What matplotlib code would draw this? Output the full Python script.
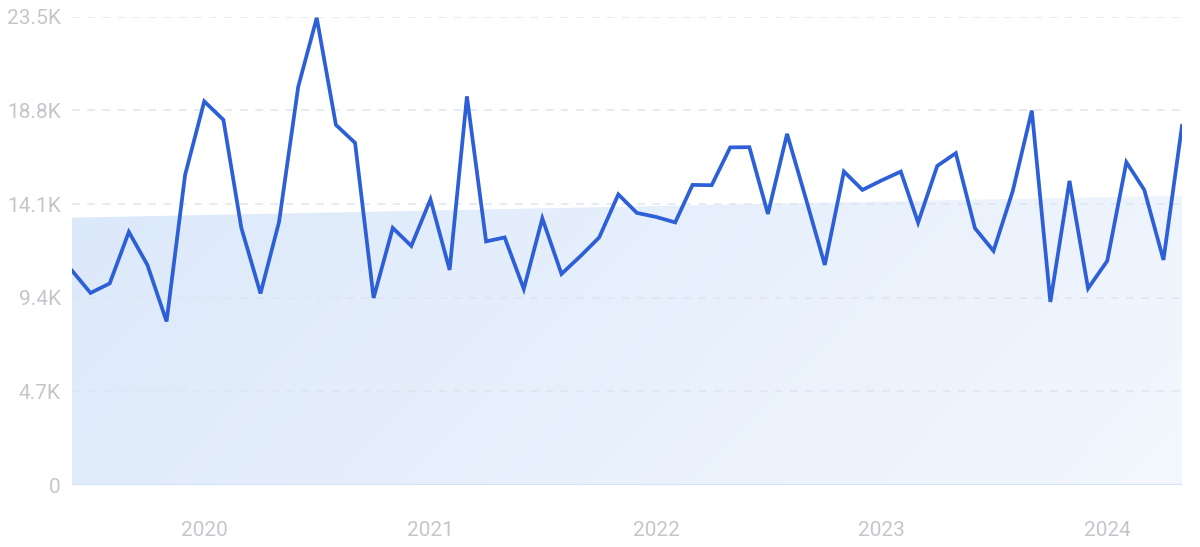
import numpy as np
import pandas as pd
import matplotlib
matplotlib.use("Agg")
import matplotlib.pyplot as plt
import matplotlib.dates as mdates
from matplotlib.colors import LinearSegmentedColormap

# ---- data ----
months = pd.date_range("2019-06-01", periods=60, freq="MS")
values = [10760, 9640, 10118, 12703, 11046, 8209, 15565, 19256, 18327, 12904,
          9615, 13205, 19984, 23448, 18076, 17172, 9389, 12904, 12000, 14335,
          10795, 19507, 12226, 12427, 9841, 13381, 10594, 11498, 12427, 14586,
          13657, 13456, 13180, 15063, 15048, 16946, 16956, 13607, 17624, 14310,
          11046, 15731, 14812, 15289, 15731, 13170, 16017, 16655, 12889, 11749,
          14737, 18794, 9188, 15264, 9866, 11247, 16203, 14812, 11297, 18025]
y_ticks = [0, 4700, 9400, 14100, 18800, 23500]
y_tick_labels = ["0", "4.7K", "9.4K", "14.1K", "18.8K", "23.5K"]
x_ticks = ["2020-01-01", "2021-01-01", "2022-01-01", "2023-01-01", "2024-01-01"]
x_tick_labels = ["2020", "2021", "2022", "2023", "2024"]

plt.rcParams['font.family'] = ['Roboto', 'DejaVu Sans']

fig = plt.figure(figsize=(12, 5.47), dpi=100)
ax = fig.add_axes([0.06, 0.1133, 0.925, 0.856])

x = months
vals = np.array(values, dtype=float)
xn = np.arange(len(vals))
slope, intercept = np.polyfit(xn, vals, 1)
trend = intercept + slope * xn

# gradient fill under trend
poly = ax.fill_between(x, 0, trend, color="none", lw=0)
cmap = LinearSegmentedColormap.from_list("g", ["#dce9fa", "#f3f7fe"])
gx, gy = np.meshgrid(np.linspace(0, 1, 200), np.linspace(0, 1, 100))
grad = (gx * 0.8 + gy * 0.2)
xl = (pd.Timestamp(x[0]), pd.Timestamp(x[-1]))
ext = [mdates.date2num(xl[0]), mdates.date2num(xl[1]), 0, trend.max()]
im = ax.imshow(grad, cmap=cmap, extent=ext, origin="upper", aspect="auto", zorder=1)
path = poly.get_paths()[0]
im.set_clip_path(path, transform=ax.transData)

# grid lines
for t in y_ticks[1:]:
    ax.axhline(t, color="#dfe4ef", lw=1.1, ls=(0, (5, 5)), zorder=2)
ax.axhline(0, color="#d4e2f5", lw=1.5, zorder=2)

ax.plot(x, vals, color="#2d5fd6", lw=2.7, zorder=3, solid_joinstyle="miter")

ax.set_xlim(xl[0], xl[1])
ax.set_ylim(0, 23500)
ax.set_yticks(y_ticks)
ax.set_yticklabels(y_tick_labels)
ax.set_xticks(pd.to_datetime(x_ticks))
ax.set_xticklabels(x_tick_labels)
ax.tick_params(axis="both", length=0, labelsize=15, labelcolor="#c4c6cc")
ax.tick_params(axis="y", pad=8)
ax.tick_params(axis="x", pad=26)
for s in ax.spines.values():
    s.set_visible(False)

fig.savefig("out.png", dpi=100)
